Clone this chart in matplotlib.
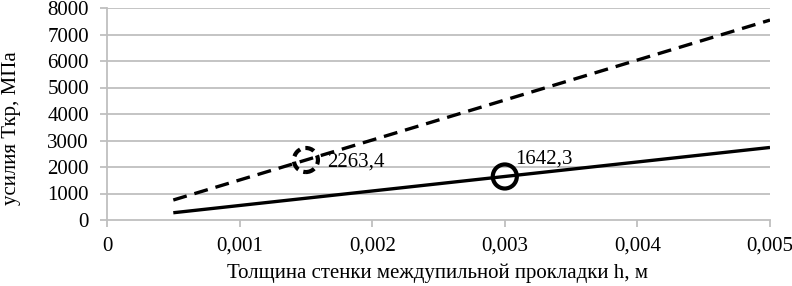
import matplotlib
matplotlib.use("Agg")
import matplotlib.pyplot as plt

h = [0.0005, 0.001, 0.0015, 0.002, 0.0025, 0.003, 0.0035, 0.004, 0.0045, 0.005]
t_solid = [273.7, 547.4, 821.2, 1094.9, 1368.6, 1642.3, 1916.0, 2189.7, 2463.5, 2737.2]
t_dashed = [754.5, 1508.9, 2263.4, 3017.9, 3772.3, 4526.8, 5281.3, 6035.7, 6790.2, 7544.7]
mark_dashed = (0.0015, 2263.4)
mark_solid = (0.003, 1642.3)
label_dashed = "2263,4"
label_solid = "1642,3"
xticks = [0, 0.001, 0.002, 0.003, 0.004, 0.005]
xticklabels = ["0", "0,001", "0,002", "0,003", "0,004", "0,005"]
yticks = [0, 1000, 2000, 3000, 4000, 5000, 6000, 7000, 8000]

plt.rcParams['font.family'] = ['Liberation Serif', 'DejaVu Serif']

fig = plt.figure(figsize=(7.92, 2.86), dpi=100)
ax = fig.add_axes([107/792, 1-220/286, (770-107)/792, (220-8)/286])

grid_c = '#bfbfbf'
for y in yticks[1:]:
    ax.axhline(y, color=grid_c, lw=1.3, zorder=0)

ax.plot(h, t_solid, color='black', lw=2.4, solid_capstyle='butt', zorder=3)
ax.plot(h, t_dashed, color='black', lw=2.4, dashes=(4.2, 2.4), zorder=3)

ax.scatter([mark_solid[0]], [mark_solid[1]], s=300, facecolors='none',
           edgecolors='black', linewidths=3, zorder=4)
ax.scatter([mark_dashed[0]], [mark_dashed[1]], s=300, facecolors='none',
           edgecolors='black', linewidths=3, linestyles=(0, (2.2, 1.3)), zorder=4)

ax.annotate(label_dashed, mark_dashed, xytext=(21, -2), textcoords='offset pixels',
            fontsize=15, va='center', ha='left')
ax.annotate(label_solid, mark_solid, xytext=(10, 17), textcoords='offset pixels',
            fontsize=15, va='center', ha='left')

ax.set_xlim(0, 0.005)
ax.set_ylim(0, 8000)
ax.set_xticks(xticks)
ax.set_xticklabels(xticklabels)
ax.set_yticks(yticks)
ax.tick_params(axis='both', labelsize=15, color=grid_c, width=1.3, length=5)
ax.tick_params(axis='y', pad=8)
ax.tick_params(axis='x', pad=7)
for s in ['top', 'right']:
    ax.spines[s].set_visible(False)
for s in ['left', 'bottom']:
    ax.spines[s].set_color(grid_c)
    ax.spines[s].set_linewidth(1.3)

fig.text(438/792, 1-273/286, "Толщина стенки междупильной прокладки h, м",
         fontsize=15, ha='center', va='center')
fig.text(12/792, 1-128/286, "усилия Ткр, МПа", fontsize=15, rotation=90,
         ha='center', va='center')

fig.savefig("out.png", dpi=100)
